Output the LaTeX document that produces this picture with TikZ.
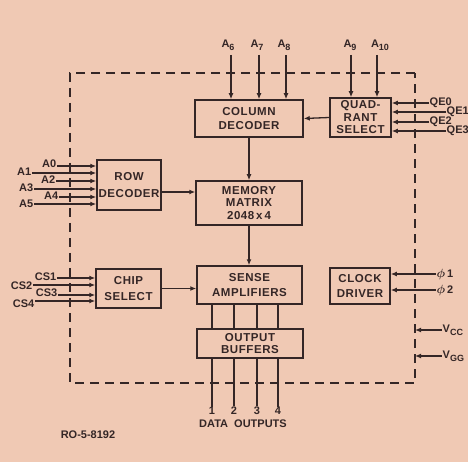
\documentclass[tikz,border=0pt]{standalone}
\usepackage{fontspec}
\setmainfont{Liberation Sans}
\usetikzlibrary{arrows.meta}
\definecolor{paper}{RGB}{240,201,180}
\definecolor{ink}{RGB}{52,38,38}
\newcommand{\subind}[1]{\raisebox{-3pt}{\fontsize{9}{9}\selectfont #1}}
\newcommand{\fase}{{\fontsize{13}{13}\selectfont\boldmath$\phi$}}
\begin{document}
\begin{tikzpicture}[
  x=1pt, y=-1pt,
  caja/.style={draw=ink, line width=1.5pt, align=center, inner sep=0pt, text=ink,
               font=\bfseries\fontsize{11.5}{12.5}\selectfont\addfontfeature{LetterSpace=5}},
  flecha/.style={-{Latex[length=6pt,width=5pt]}, line width=1.3pt, draw=ink},
  linea/.style={line width=1.3pt, draw=ink},
  rotulo/.style={inner sep=0.5pt, text=ink, font=\bfseries\fontsize{11}{12}\selectfont},
  borde/.style={draw=ink, line width=1.3pt, dash pattern=on 9pt off 6pt}
]
  \fill[paper] (0,0) rectangle (468,462);
  \useasboundingbox (0,0) rectangle (468,462);
  \draw[borde] (415,73) -- (70,73) -- (70,383) -- (415,383) -- cycle;

  \node[caja, minimum width=108pt, minimum height=37pt] (coldec)  at (249,118.5) {COLUMN\\[2pt]DECODER};
  \node[caja, minimum width=61pt,  minimum height=39pt] (quad)    at (360.5,117.5) {QUAD-\\RANT\\SELECT};
  \node[caja, minimum width=64pt,  minimum height=50pt] (rowdec)  at (129,185) {ROW\\[4pt]DECODER};
  \node[caja, minimum width=106pt, minimum height=44pt] (memmat)  at (249,203) {MEMORY\\MATRIX\\2048\,x\,4};
  \node[caja, minimum width=65pt,  minimum height=39pt] (chipsel) at (128.5,288.5) {CHIP\\[3pt]SELECT};
  \node[caja, minimum width=105pt, minimum height=38pt] (sense)   at (249.5,285) {SENSE\\[3pt]AMPLIFIERS};
  \node[caja, minimum width=106pt, minimum height=29pt] (outbuf)  at (250,343.5) {OUTPUT\\BUFFERS};
  \node[caja, minimum width=60pt,  minimum height=36pt] (clock)   at (360,286) {CLOCK\\[2pt]DRIVER};

  \node[rotulo] (a6)  at (228,45) {A\subind{6}};
  \node[rotulo] (a7)  at (257,45) {A\subind{7}};
  \node[rotulo] (a8)  at (284,45) {A\subind{8}};
  \node[rotulo] (a9)  at (350,45) {A\subind{9}};
  \node[rotulo] (a10) at (380,45) {A\subind{10}};
  \foreach \n/\x in {a6/231, a7/259, a8/286}
    \draw[flecha] (\x,55) -- (\x,0 |- coldec.north);
  \foreach \n/\x in {a9/351, a10/377}
    \draw[flecha] (\x,55) -- (\x,0 |- quad.north);

  \node[rotulo, anchor=west] (qe0) at (429,103) {QE0};
  \node[rotulo, anchor=west] (qe1) at (446,112) {QE1};
  \node[rotulo, anchor=west] (qe2) at (429,122) {QE2};
  \node[rotulo, anchor=west] (qe3) at (446,131) {QE3};
  \foreach \n in {qe0,qe1,qe2,qe3}
    \draw[flecha] (\n.west) -- (\n.west -| quad.east);

  \node[rotulo, anchor=east] (ra0) at (57,164) {A0};
  \node[rotulo, anchor=east] (ra1) at (32,172) {A1};
  \node[rotulo, anchor=east] (ra2) at (56,180) {A2};
  \node[rotulo, anchor=east] (ra3) at (34,188) {A3};
  \node[rotulo, anchor=east] (ra4) at (59,196) {A4};
  \node[rotulo, anchor=east] (ra5) at (34,204) {A5};
  \foreach \n/\y in {ra0/166, ra1/173, ra2/181, ra3/189, ra4/197, ra5/204}
    \draw[flecha] (\n.east |- 0,\y) -- (rowdec.west |- 0,\y);

  \node[rotulo, anchor=east] (cs1) at (57,277) {CS1};
  \node[rotulo, anchor=east] (cs2) at (33,286) {CS2};
  \node[rotulo, anchor=east] (cs3) at (58,293) {CS3};
  \node[rotulo, anchor=east] (cs4) at (35,304) {CS4};
  \foreach \n/\y in {cs1/278, cs2/285, cs3/295, cs4/301}
    \draw[flecha] (\n.east |- 0,\y) -- (chipsel.west |- 0,\y);

  \draw[flecha] (quad.west) -- (coldec.east);
  \draw[flecha] ([yshift=-7pt]rowdec.east) -- ([yshift=-7pt]rowdec.east -| memmat.west);
  \draw[flecha] (coldec.south) -- (coldec.south |- memmat.north);
  \draw[flecha] (memmat.south) -- (memmat.south |- sense.north);
  \draw[flecha] (chipsel.east) -- (chipsel.east -| sense.west);

  \node[rotulo, anchor=west] (phi1) at (436,274) {\fase\,1};
  \node[rotulo, anchor=west] (phi2) at (436,290) {\fase\,2};
  \foreach \n in {phi1,phi2}
    \draw[flecha] (\n.west) -- (\n.west -| clock.east);

  \node[rotulo, anchor=west] (vcc) at (442,330) {V\subind{CC}};
  \node[rotulo, anchor=west] (vgg) at (442,356) {V\subind{GG}};
  \foreach \n in {vcc,vgg}
    \draw[flecha] (\n.west) -- (415,0 |- \n.west);

  \foreach \x [count=\i] in {212,234,257,278} {
    \draw[linea] (sense.south -| \x,0) -- (outbuf.north -| \x,0);
    \node[rotulo] (d\i) at (\x,411) {\i};
    \draw[linea] (outbuf.south -| \x,0) -- (d\i.north);
  }
  \node[rotulo] (dataout) at (243,424) {DATA\ \ OUTPUTS};
  \node[rotulo] (ref) at (88,435) {RO-5-8192};
\end{tikzpicture}
\end{document}
